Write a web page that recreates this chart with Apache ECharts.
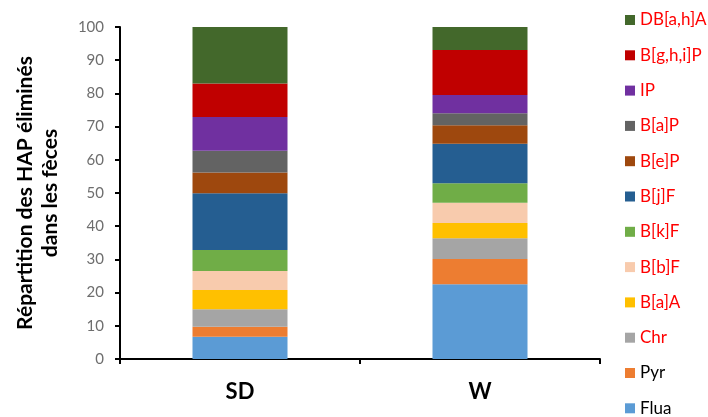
<!DOCTYPE html>
<html><head><meta charset="utf-8">
<script src="https://cdn.jsdelivr.net/npm/echarts@6/dist/echarts.min.js"></script>
<style>html,body{margin:0;padding:0;background:#fff}#c{width:708px;height:417px}</style>
</head><body><div id="c"></div>
<script>
var categories = ['SD', 'W'];
var compounds = ['Flua', 'Pyr', 'Chr', 'B[a]A', 'B[b]F', 'B[k]F', 'B[j]F', 'B[e]P', 'B[a]P', 'IP', 'B[g,h,i]P', 'DB[a,h]A'];
var Flua = [6.7, 22.5];
var Pyr = [3.0, 7.6];
var Chr = [5.3, 6.3];
var BaA = [5.8, 4.6];
var BbF = [5.7, 6.1];
var BkF = [6.3, 5.8];
var BjF = [17.1, 11.9];
var BeP = [6.3, 5.6];
var BaP = [6.5, 3.6];
var IP = [10.2, 5.5];
var BghiP = [10.1, 13.6];
var DBahA = [17.0, 6.9];
var yTicks = [0, 10, 20, 30, 40, 50, 60, 70, 80, 90, 100];

var seriesData = [Flua, Pyr, Chr, BaA, BbF, BkF, BjF, BeP, BaP, IP, BghiP, DBahA];
var colors = ['#5B9BD5', '#ED7D31', '#A5A5A5', '#FFC000', '#F8CBAD', '#70AD47', '#255E91', '#9E480E', '#636363', '#7030A0', '#C00000', '#43682B'];
var legendColors = ['#000', '#000', '#FF0000', '#FF0000', '#FF0000', '#FF0000', '#FF0000', '#FF0000', '#FF0000', '#FF0000', '#FF0000', '#FF0000'];
var FONT = 'Lato';

var series = compounds.map(function (name, i) {
  return {
    name: name, type: 'bar', stack: 'total', barWidth: 95,
    itemStyle: { color: colors[i] },
    data: seriesData[i]
  };
});
// one legend component per item, top to bottom in reverse stacking order
var legends = compounds.slice().reverse().map(function (name, k) {
  var i = compounds.indexOf(name);
  return {
    orient: 'vertical', left: 625, top: 20 + k * 35.3 - 9, padding: 0,
    itemWidth: 10, itemHeight: 10, icon: 'rect', selectedMode: false,
    textStyle: { fontFamily: FONT, fontSize: 17, lineHeight: 18, color: legendColors[i] },
    data: [name]
  };
});

var chart = echarts.init(document.getElementById('c'), null, { renderer: 'canvas' });
chart.setOption({
  animation: false,
  backgroundColor: '#fff',
  grid: { left: 120, right: 108, top: 27, bottom: 58 },
  legend: legends,
  xAxis: {
    type: 'category', data: categories,
    axisLine: { lineStyle: { color: '#000', width: 2 } },
    axisTick: { show: true, length: 5, lineStyle: { color: '#000', width: 2 } },
    axisLabel: { color: '#000', fontFamily: FONT, fontSize: 22, fontWeight: 'bold', margin: 22 }
  },
  yAxis: {
    type: 'value', min: 0, max: 100, interval: 10,
    name: 'Répartition des HAP éliminés\ndans les fèces',
    nameLocation: 'middle', nameGap: 57, nameRotate: 90,
    nameTextStyle: { color: '#000', fontFamily: FONT, fontSize: 21, fontWeight: 'bold', lineHeight: 25 },
    axisLine: { show: true, lineStyle: { color: '#000', width: 2 } },
    axisTick: { show: true, length: 5, lineStyle: { color: '#000', width: 2 } },
    axisLabel: { color: '#6e6e6e', fontFamily: FONT, fontSize: 15, margin: 16,
      formatter: function (v) { return yTicks.indexOf(v) >= 0 ? String(v) : ''; } },
    splitLine: { show: false }
  },
  series: series
});
</script></body></html>
